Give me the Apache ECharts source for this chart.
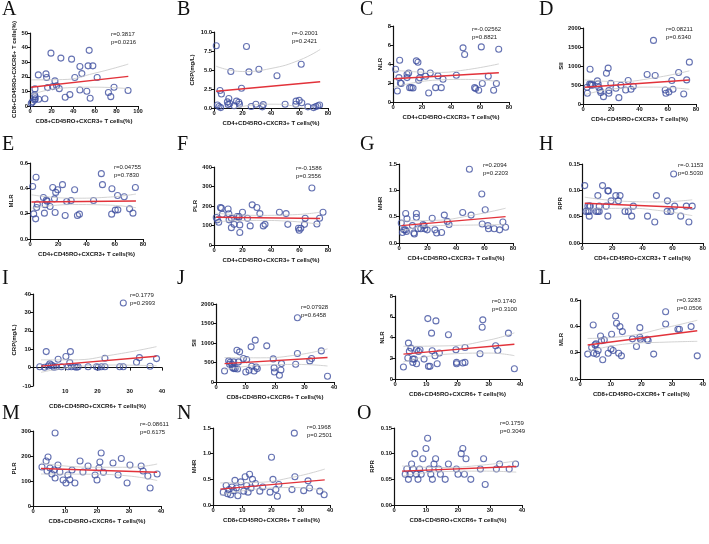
<!DOCTYPE html>
<html>
<head>
<meta charset="utf-8">
<script src="https://cdn.jsdelivr.net/npm/echarts@6/dist/echarts.min.js"></script>
<style>
  html, body { margin: 0; padding: 0; background: #fff; }
  #chart { width: 709px; height: 544px; }
</style>
</head>
<body>
<div id="chart"></div>
<script>
// ---- values ----
const ptsA = [[19.4,36.2],[28.6,32.8],[38.5,32.1],[54.8,38.1],[53.8,27.5],[58.2,27.5],[46.2,27.1],[48,22.2],[62.2,19.5],[41.5,19.5],[7.7,21.3],[14.8,22],[15.4,19.5],[23.1,17.2],[16.3,12.6],[20.9,13.3],[24.6,13.8],[27.1,11.9],[4.6,11.7],[46.2,11],[52.6,10.1],[36.9,7.8],[32.6,6],[55.7,5.3],[72.6,9.2],[74.8,6.4],[77.8,12.8],[90.8,10.6],[4.3,7.6],[4.6,6.4],[4.9,5],[4.3,4.1],[8,4.6],[13.8,5],[2.2,2.8],[1.2,1.8]];
const fitA = [[1,12.8],[91,20.3]];
const hiA = [[1,17.9],[30,18.1],[60,22.5],[91,28.7]];
const loA = [[1,7.7],[30,12.3],[60,12.9],[91,11.9]];

const ptsB = [[1.6,8.2],[22.8,8.1],[61.2,5.75],[11.8,4.8],[24.5,4.75],[31.5,5.1],[44.2,4.25],[19.3,2.6],[4.2,2.3],[5.2,1.85],[10.4,1.25],[9.4,0.8],[11.1,0.6],[9.9,0.45],[15.8,0.9],[17.4,0.75],[17.9,0.5],[14.1,0.3],[2.4,0.4],[3.5,0.2],[4.7,0.05],[29.4,0.5],[26.1,0.2],[34.6,0.45],[33.9,0.15],[49.9,0.5],[57.6,0.9],[59.8,1.0],[61.6,0.7],[57.4,0.5],[65.9,0.15],[69.9,0.05],[71.5,0.2],[72.9,0.3],[74.1,0.4]];
const fitB = [[1.5,2.2],[74.5,3.45]];
const hiB = [[1.5,5.5],[20,4.8],[40,5.2],[60,6.3],[74.5,7.7]];
const loB = [[1.5,-1.1],[20,0.2],[40,0.5],[60,0.1],[74.5,-0.8]];

const ptsC = [[1.8,3.45],[4.6,4.4],[4.1,2.57],[5.1,2.0],[5.7,1.94],[3.0,1.16],[9.7,2.92],[10.8,3.06],[9.7,2.57],[11.5,1.51],[12.6,1.51],[13.8,1.48],[16.1,4.33],[17.2,4.19],[18.4,2.54],[17.7,2.29],[19.1,3.17],[22.5,2.71],[25.7,3.06],[24.6,0.95],[29.4,1.51],[31,2.75],[33.3,1.51],[34.5,2.39],[43.7,2.82],[48.3,5.7],[49.4,5.0],[56.3,1.51],[57,1.41],[59.1,1.23],[60.9,5.8],[61.6,1.94],[65.7,2.71],[69.4,1.23],[71.3,1.94],[72.9,5.56]];
const fitC = [[0.5,2.45],[73,3.08]];
const hiC = [[0.5,3.35],[30,3.11],[50,3.38],[73,4.01]];
const loC = [[0.5,1.55],[30,2.31],[50,2.38],[73,2.15]];

const ptsD = [[2.9,440],[3.1,282],[5,916],[4.8,529],[5.5,502],[5.9,529],[6.7,493],[10.2,608],[10.7,529],[11.2,440],[12.1,352],[12.6,300],[14.5,194],[16.6,811],[17.8,943],[18.3,352],[18.3,282],[19.7,546],[23.3,414],[25.4,167],[26.8,493],[30.2,370],[32,617],[34,388],[35.6,467],[45.4,775],[49.9,1674],[51.1,749],[58.2,370],[58.7,282],[60.8,317],[62.9,617],[63.7,388],[67.7,828],[71.3,264],[73.4,634],[75.3,1101]];
const fitD = [[1.2,440],[75.3,630]];
const hiD = [[1.2,634],[25,590],[50,685],[75.3,872]];
const loD = [[1.2,246],[25,410],[50,445],[75.3,388]];

const ptsE = [[1.9,0.415],[4.3,0.487],[2.6,0.198],[4,0.159],[4.7,0.249],[5.2,0.275],[9.5,0.328],[10.2,0.204],[10.7,0.27],[11.6,0.307],[12.1,0.299],[14.2,0.257],[16.1,0.407],[17.3,0.317],[18.2,0.368],[17.8,0.209],[19.6,0.389],[23,0.429],[24.9,0.185],[26,0.296],[29.1,0.304],[31.6,0.389],[33.6,0.185],[35,0.196],[45,0.304],[50.5,0.516],[51.3,0.429],[58,0.397],[57.8,0.196],[60.4,0.228],[62.2,0.23],[62,0.344],[66.7,0.333],[70.5,0.238],[72.9,0.204],[74.6,0.407]];
const fitE = [[1,0.292],[75,0.3]];
const hiE = [[1,0.349],[30,0.322],[55,0.33],[75,0.355]];
const loE = [[1,0.243],[30,0.272],[55,0.268],[75,0.247]];

const ptsF = [[1.6,141],[2.4,129],[3.3,117],[4.5,192],[5.2,189],[5.9,158],[9.9,185],[10.4,160],[10.6,129],[12.2,137],[12.2,89],[14.1,106],[16.2,146],[17.4,141],[17.6,146],[18.1,64],[18.1,103],[20,168],[23.5,137],[25.4,98],[26.8,206],[30.1,192],[32.2,161],[34.6,98],[35.8,106],[45.9,168],[50.6,161],[51.8,106],[59.3,86],[59.8,76],[60.9,86],[63.5,106],[64,137],[68.7,292],[72.2,108],[74.1,137],[76.5,168]];
const fitF = [[1.6,142],[74.5,136]];
const hiF = [[1.6,163],[30,152],[55,155],[74.5,168]];
const loF = [[1.6,120],[30,126],[55,121],[74.5,105]];

const ptsG = [[1.6,0.38],[2.4,0.2],[3.5,0.25],[4.5,0.25],[5.2,0.22],[4.7,0.56],[5.6,0.46],[9.4,0.33],[10.4,0.19],[10.8,0.17],[12.2,0.56],[12.2,0.49],[13.4,0.27],[15.3,0.27],[16.9,0.35],[17.6,0.33],[18.1,0.27],[19.8,0.25],[23.3,0.47],[25.2,0.25],[26.4,0.19],[29.9,0.2],[31.8,0.53],[33.9,0.41],[35.1,0.35],[44.7,0.58],[49.4,1.4],[50.6,0.53],[58.1,0.93],[58.4,0.36],[60.5,0.63],[62.4,0.33],[62.8,0.27],[66.8,0.27],[70.6,0.25],[72.9,0.4],[74.8,0.3]];
const fitG = [[1.6,0.33],[74.8,0.5]];
const hiG = [[1.6,0.42],[25,0.43],[50,0.52],[74.8,0.66]];
const loG = [[1.6,0.23],[25,0.33],[50,0.34],[74.8,0.35]];

const ptsH = [[1.8,0.109],[2.6,0.06],[3.9,0.07],[3.9,0.06],[4.8,0.051],[5,0.07],[5.5,0.07],[4.8,0.06],[10.5,0.09],[9.4,0.06],[10.5,0.06],[11.4,0.06],[11.4,0.07],[13.6,0.109],[16,0.07],[17.1,0.099],[17.5,0.099],[17.1,0.051],[19.3,0.08],[22.4,0.09],[25.2,0.09],[24.1,0.08],[28.5,0.06],[30.7,0.06],[32.9,0.051],[34,0.07],[43.4,0.051],[48.2,0.04],[49.3,0.09],[56.6,0.08],[56.4,0.06],[58.8,0.06],[60.7,0.131],[61.4,0.07],[65.4,0.051],[69.1,0.07],[70.8,0.04],[73,0.07]];
const fitH = [[1.8,0.0755],[73,0.067]];
const hiH = [[1.8,0.087],[30,0.079],[50,0.078],[73,0.082]];
const loH = [[1.8,0.064],[30,0.066],[50,0.062],[73,0.052]];

const ptsI = [[28,35.1],[4.1,8.7],[11.6,8.7],[10.2,6],[7.8,4.5],[22.3,5.1],[33,5.4],[38.3,4.9],[32.1,2.9],[11.4,2.7],[5.2,2.0],[5.7,1.4],[4.7,0.9],[6.2,0.9],[2.1,0.5],[3.6,0.2],[6.5,0.2],[7.3,0.5],[8.8,0.5],[10.9,0.5],[11.9,0.5],[12.9,0.5],[13.5,0.2],[14,0.5],[17.1,0.5],[19.7,0.5],[20.2,0.2],[21.2,0.5],[22.3,0.5],[26.9,0.5],[28,0.5],[36.3,0.7]];
const fitI = [[2.5,0.8],[38.3,6.2]];
const hiI = [[2.5,4.2],[12,4.2],[25,7.0],[38.3,11.4]];
const loI = [[2.5,-2.6],[12,0.2],[25,1.4],[38.3,1.0]];

const ptsJ = [[2.9,283],[4.3,541],[4.6,455],[4.8,506],[5.4,455],[5.6,369],[6,515],[6,343],[6.5,343],[7.1,815],[7.3,335],[8,773],[7.6,515],[9.3,601],[10.4,575],[10.1,258],[11.2,300],[11.9,901],[12.1,403],[12.9,283],[13.3,1073],[13.6,386],[14,343],[17.2,927],[19.4,592],[19.7,361],[19.8,258],[21.5,172],[22,309],[22.2,472],[27,455],[27.6,1648],[27.6,730],[31.8,541],[32.4,601],[35.7,798],[37.8,146]];
const fitJ = [[2.9,470],[37.8,630]];
const hiJ = [[2.9,627],[15,620],[28,700],[37.8,850]];
const loJ = [[2.9,313],[15,430],[28,450],[37.8,410]];

const ptsK = [[2.7,1.15],[4.3,3.46],[4.6,2.66],[4.1,2.02],[5.1,2.98],[5.7,1.92],[5.7,1.6],[6.2,1.92],[6.9,2.82],[6.9,1.47],[7.5,2.66],[8,2.82],[9.3,1.92],[10.5,5.82],[10.7,1.22],[11.2,1.22],[11.7,4.42],[11.9,2.72],[12.8,2.24],[13.1,5.6],[13.5,1.47],[14.2,2.5],[17.1,4.26],[19.5,2.82],[19.7,1.6],[19.7,1.47],[21.7,1.54],[22.4,1.6],[22.4,3.04],[27.2,2.43],[27.9,4.99],[28.1,5.7],[32.2,3.2],[32.9,2.75],[36.3,4.42],[38.2,0.99]];
const fitK = [[2.7,2.4],[38.2,3.35]];
const hiK = [[2.7,3.15],[17,3.2],[30,3.75],[38.2,4.45]];
const loK = [[2.7,1.65],[17,2.4],[30,2.5],[38.2,2.25]];

const ptsL = [[2.5,0.189],[4.3,0.41],[3.8,0.239],[4.5,0.196],[4.9,0.259],[5.2,0.267],[5.4,0.189],[5.9,0.217],[6.7,0.327],[7,0.29],[7.4,0.146],[7.9,0.297],[9.2,0.196],[10.1,0.227],[10.3,0.34],[10.8,0.217],[11.6,0.479],[11.9,0.423],[13,0.398],[12.6,0.196],[13.5,0.176],[13.8,0.36],[17.1,0.305],[19.5,0.39],[19.5,0.317],[19.7,0.302],[18.4,0.247],[21.9,0.302],[22.2,0.292],[24,0.189],[27.9,0.511],[27.9,0.418],[31.9,0.378],[32.4,0.378],[36.2,0.398],[38.2,0.176]];
const fitL = [[2.5,0.258],[38.2,0.366]];
const hiL = [[2.5,0.308],[15,0.326],[28,0.39],[38.2,0.446]];
const loL = [[2.5,0.208],[15,0.266],[28,0.28],[38.2,0.286]];

const ptsM = [[2.8,156],[4.1,180],[4.7,196],[4.4,140],[5.3,152],[5.9,128],[6.6,144],[6.9,112],[6.9,292],[7.8,164],[8.4,136],[9.4,104],[10.3,92],[10.9,124],[11.5,105],[12.2,144],[13.1,92],[14.7,180],[15.6,136],[17.2,160],[19.4,124],[20,104],[20.6,152],[20.9,176],[21.3,212],[22,135],[25,172],[26.6,124],[27.6,190],[29.4,92],[30.3,164],[33.8,160],[34.4,140],[35.9,120],[36.6,72],[38.8,128]];
const fitM = [[2.5,150],[38.8,135]];
const hiM = [[2.5,172],[18,155],[30,155],[38.8,168]];
const loM = [[2.5,128],[18,127],[30,120],[38.8,102]];

const ptsN = [[3.5,0.25],[4.5,0.38],[5,0.22],[5.5,0.3],[6,0.2],[6.5,0.35],[7,0.28],[7.5,0.48],[8,0.33],[8.5,0.18],[9.5,0.45],[10.5,0.27],[11,0.55],[11.5,0.38],[12,0.25],[12.5,0.6],[13,0.33],[13.5,0.5],[14.5,0.42],[16,0.27],[17,0.35],[19.5,0.25],[20,0.93],[20.5,0.5],[21.5,0.3],[22,0.17],[22.5,0.4],[27,0.3],[27.8,1.4],[28,0.55],[31,0.28],[32.5,0.47],[33,0.33],[36.5,0.27],[38,0.2]];
const fitN = [[2.5,0.31],[38.2,0.49]];
const hiN = [[2.5,0.43],[15,0.44],[28,0.55],[38.2,0.7]];
const loN = [[2.5,0.19],[15,0.31],[28,0.34],[38.2,0.28]];

const ptsO = [[3.5,0.06],[4,0.07],[4.5,0.05],[5,0.06],[5.5,0.08],[6,0.07],[6.5,0.1],[7,0.06],[7.5,0.05],[8,0.07],[8.5,0.06],[9,0.09],[10,0.11],[10.5,0.13],[11,0.07],[11.5,0.06],[12,0.05],[12.5,0.08],[13,0.09],[14,0.07],[14.5,0.06],[16,0.05],[17,0.08],[19.5,0.07],[20,0.06],[21,0.1],[21.5,0.11],[22,0.06],[22.5,0.09],[24,0.05],[27,0.07],[28,0.09],[28.5,0.04],[32,0.07],[33,0.08],[36,0.07],[38,0.08]];
const fitO = [[2.5,0.066],[38.2,0.075]];
const hiO = [[2.5,0.076],[15,0.073],[28,0.078],[38.2,0.086]];
const loO = [[2.5,0.056],[15,0.065],[28,0.066],[38.2,0.064]];

// panel labels and ticks
const letters = ['A','B','C','D','E','F','G','H','I','J','K','L','M','N','O'];
const cd4x = 'CD4+CD45RO+CXCR3+ T cells(%)';
const cd8x = 'CD8+CD45RO+CXCR6+ T cells(%)';
const xTitles = ['CD8+CD45RO+CXCR3+ T cells(%)', cd4x, cd4x, cd4x, cd4x, cd4x, cd4x, cd4x, cd8x, cd8x, cd8x, cd8x, cd8x, cd8x, cd8x];
const yTitles = ['CD8+CD45RO+CXCR6+ T cells(%)','CRP(mg/L)','NLR','SII','MLR','PLR','MHR','RPR','CRP(mg/L)','SII','NLR','MLR','PLR','MHR','RPR'];
const xMax = [100,80,80,80,80,80,80,80,40,40,40,40,40,40,40];
const xStep = [20,20,20,20,20,20,20,20,10,10,10,10,10,10,10];
const yMin = [0,0,0,0,0,0,0,0,-10,0,0,0,0,0,0];
const yMax = [50,10,8,2000,0.6,400,1.5,0.15,40,2000,8,0.6,300,1.5,0.15];
const yStep = [10,2.5,2,500,0.2,100,0.5,0.05,10,500,2,0.2,100,0.5,0.05];
const yDec = [0,1,0,0,1,0,1,2,0,0,0,1,0,1,2];
const rText = ['r=0.3817','r=-0.2001','r=-0.02562','r=0.08211','r=0.04755','r=-0.1586','r=0.2094','r=-0.1153','r=0.1779','r=0.07928','r=0.1740','r=0.3283','r=-0.08611','r=0.1968','r=0.1759'];
const pText = ['p=0.0216','p=0.2421','p=0.8821','p=0.6340','p=0.7830','p=0.3556','p=0.2203','p=0.5030','p=0.2993','p=0.6458','p=0.3100','p=0.0506','p=0.6175','p=0.2501','p=0.3049'];

const pts = [ptsA,ptsB,ptsC,ptsD,ptsE,ptsF,ptsG,ptsH,ptsI,ptsJ,ptsK,ptsL,ptsM,ptsN,ptsO];
const fits = [fitA,fitB,fitC,fitD,fitE,fitF,fitG,fitH,fitI,fitJ,fitK,fitL,fitM,fitN,fitO];
const his = [hiA,hiB,hiC,hiD,hiE,hiF,hiG,hiH,hiI,hiJ,hiK,hiL,hiM,hiN,hiO];
const los = [loA,loB,loC,loD,loE,loF,loG,loH,loI,loJ,loK,loL,loM,loN,loO];

// ---- layout (pixels) ----
// plot box: left, top, width, height
const boxes = [
    [30,33,108,73],[214,32,114,76],[393,26,116,76],[583,28,113,76],
    [30,163,113,76],[214,167,114,78],[399,164,114,79],[582,164,121,79],
    [33,294,129,92],[216,304,118,78],[395,296,125,83],[580,300,123,79],
    [33,431,128,75],[213,428,117,77],[394,428,128,77]
];
const yGap = [13,19,10,19,16,16,16,19,16,19,10,16,16,16,19];
const letterPos = [
    [2,0],[177,0],[360,0],[539,0],
    [2,135],[177,135],[360,135],[539,135],
    [2,269],[177,269],[360,269],[539,269],
    [2,404],[177,404],[357,404]
];
const notePos = [
    [111,30],[292,29],[472,25],[666,25],
    [114,163],[296,164],[483,161],[678,161],
    [130,291],[301,303],[492,297],[677,296],
    [140,420],[307,423],[500,419]
];

const ink = '#111';
const sans = 'Liberation Sans';
const dot = '#3f4f9f';

const chart = echarts.init(document.getElementById('chart'), null, { renderer: 'canvas' });

const grid = [], xAxis = [], yAxis = [], series = [], graphic = [];

letters.forEach((L, i) => {
    const b = boxes[i];
    grid.push({ left: b[0], top: b[1], width: b[2], height: b[3], containLabel: false });

    xAxis.push({
        gridIndex: i, type: 'value', min: 0, max: xMax[i], interval: xStep[i],
        name: xTitles[i], nameLocation: 'middle', nameGap: i === 8 ? 17 : 12,
        nameTextStyle: { fontSize: 6, fontWeight: 'bold', color: ink, fontFamily: sans },
        axisLine: { onZero: i === 8, lineStyle: { color: ink, width: 1.2 } },
        axisTick: { length: 3, lineStyle: { color: ink, width: 1 } },
        axisLabel: { fontSize: 5.8, fontWeight: 'bold', color: ink, fontFamily: sans, margin: 2, showMinLabel: i !== 8 },
        splitLine: { show: false }
    });

    yAxis.push({
        gridIndex: i, type: 'value', min: yMin[i], max: yMax[i], interval: yStep[i],
        name: yTitles[i], nameLocation: 'middle', nameGap: yGap[i],
        nameTextStyle: { fontSize: 6, fontWeight: 'bold', color: ink, fontFamily: sans },
        axisLine: { show: true, onZero: false, lineStyle: { color: ink, width: 1.2 } },
        axisTick: { show: true, length: 3, lineStyle: { color: ink, width: 1 } },
        axisLabel: {
            fontSize: 5.8, fontWeight: 'bold', color: ink, fontFamily: sans, margin: 2,
            formatter: (v) => v.toFixed(yDec[i])
        },
        splitLine: { show: false }
    });

    // confidence band edges
    [his[i], los[i]].forEach((band) => {
        series.push({
            type: 'line', xAxisIndex: i, yAxisIndex: i, data: band, smooth: true,
            symbol: 'none', silent: true, clip: true,
            lineStyle: { color: '#c6c6c6', width: 0.8 }
        });
    });

    // regression line
    series.push({
        type: 'line', xAxisIndex: i, yAxisIndex: i, data: fits[i],
        symbol: 'none', silent: true,
        lineStyle: { color: '#e2323a', width: 1.4 }
    });

    series.push({
        type: 'scatter', xAxisIndex: i, yAxisIndex: i, data: pts[i],
        symbol: 'circle', symbolSize: 6,
        itemStyle: { color: 'rgba(255,255,255,0)', borderColor: dot, borderWidth: 1.1 }
    });

    graphic.push({
        type: 'text', left: letterPos[i][0], top: letterPos[i][1],
        style: { text: L, fontSize: 20, fontFamily: 'Liberation Serif', fill: '#111' }
    });
    graphic.push({
        type: 'text', left: notePos[i][0], top: notePos[i][1],
        style: { text: rText[i] + '\n' + pText[i], fontSize: 6, lineHeight: 8.5, fontFamily: sans, fill: '#222' }
    });
});

chart.setOption({
    backgroundColor: '#fff',
    animation: false,
    grid, xAxis, yAxis, series, graphic
});
</script>
</body>
</html>
